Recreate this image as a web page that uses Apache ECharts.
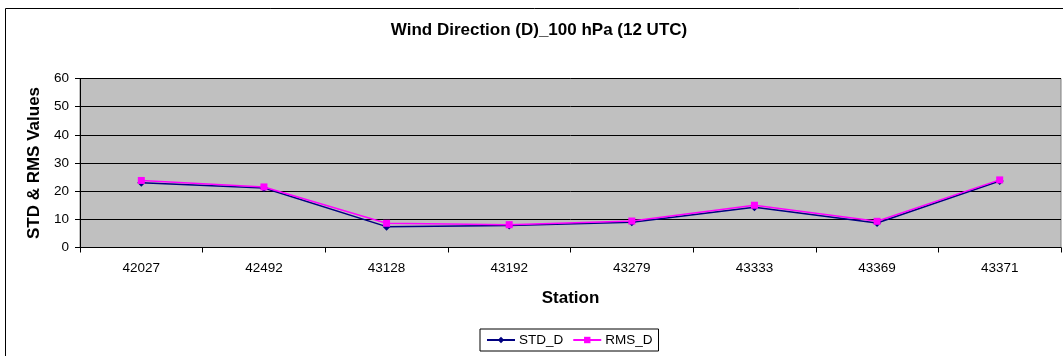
<!DOCTYPE html>
<html>
<head>
<meta charset="utf-8">
<script src="https://cdn.jsdelivr.net/npm/echarts@6/dist/echarts.min.js"></script>
<style>
  html, body { margin: 0; padding: 0; background: #fff; }
  #chart { width: 1063px; height: 356px; }
</style>
</head>
<body>
<div id="chart"></div>
<script>
const stations = ['42027', '42492', '43128', '43192', '43279', '43333', '43369', '43371'];
const stdD = [23.0, 21.1, 7.4, 7.8, 9.0, 14.3, 8.7, 23.6];
const rmsD = [23.8, 21.5, 8.6, 8.1, 9.4, 15.0, 9.3, 24.0];
const yTicks = { min: 0, max: 60, interval: 10 };

const FONT = '"Liberation Sans", Arial, sans-serif';
const chart = echarts.init(document.getElementById('chart'), null, { renderer: 'canvas' });
chart.setOption({
  animation: false,
  backgroundColor: '#ffffff',
  title: {
    text: 'Wind Direction (D)_100 hPa (12 UTC)',
    left: 539,
    textAlign: 'center',
    top: 22,
    padding: 0,
    textStyle: { fontFamily: FONT, fontSize: 17, fontWeight: 'bold', color: '#000' }
  },
  graphic: [{
    type: 'rect',
    z: -10,
    shape: { x: 5.5, y: 8.5, width: 1100, height: 400 },
    style: { fill: 'none', stroke: '#000', lineWidth: 1 }
  }],
  legend: {
    left: 480,
    top: 329,
    padding: [4, 6, 4, 6],
    itemWidth: 28,
    itemHeight: 8,
    itemGap: 9,
    borderColor: '#000',
    borderWidth: 1,
    backgroundColor: '#fff',
    textStyle: { fontFamily: FONT, fontSize: 13.5, color: '#000', padding: [0, 0, 0, -1] },
    data: ['STD_D', 'RMS_D']
  },
  grid: {
    left: 80, right: 2, top: 78.5, bottom: 108.5,
    show: true,
    backgroundColor: '#C0C0C0',
    borderColor: '#808080',
    borderWidth: 1
  },
  xAxis: {
    type: 'category',
    data: stations,
    boundaryGap: true,
    name: 'Station',
    nameLocation: 'middle',
    nameGap: 42,
    nameTextStyle: { fontFamily: FONT, fontSize: 17, fontWeight: 'bold', color: '#000' },
    axisLine: { lineStyle: { color: '#000', width: 1 } },
    axisTick: { show: true, length: 5, lineStyle: { color: '#000' } },
    axisLabel: { fontFamily: FONT, fontSize: 13.5, color: '#000', margin: 14 },
    splitLine: { show: false }
  },
  yAxis: {
    type: 'value',
    min: yTicks.min, max: yTicks.max, interval: yTicks.interval,
    name: 'STD & RMS Values',
    nameLocation: 'middle',
    nameRotate: 90,
    nameGap: 37,
    nameTextStyle: { fontFamily: FONT, fontSize: 17, fontWeight: 'bold', color: '#000' },
    axisLine: { show: true, lineStyle: { color: '#000', width: 1 } },
    axisTick: { show: true, length: 5, lineStyle: { color: '#000' } },
    axisLabel: { fontFamily: FONT, fontSize: 13.5, color: '#000', margin: 11 },
    splitLine: { show: true, lineStyle: { color: '#000', width: 1 } }
  },
  series: [
    {
      name: 'STD_D',
      type: 'line',
      data: stdD,
      symbol: 'diamond',
      symbolSize: 8,
      color: '#000080',
      lineStyle: { color: '#000080', width: 1.5 },
      itemStyle: { color: '#000080' },
      z: 2
    },
    {
      name: 'RMS_D',
      type: 'line',
      data: rmsD,
      symbol: 'rect',
      symbolSize: 7,
      color: '#FF00FF',
      lineStyle: { color: '#FF00FF', width: 1.5 },
      itemStyle: { color: '#FF00FF' },
      z: 3
    }
  ]
});
</script>
</body>
</html>
